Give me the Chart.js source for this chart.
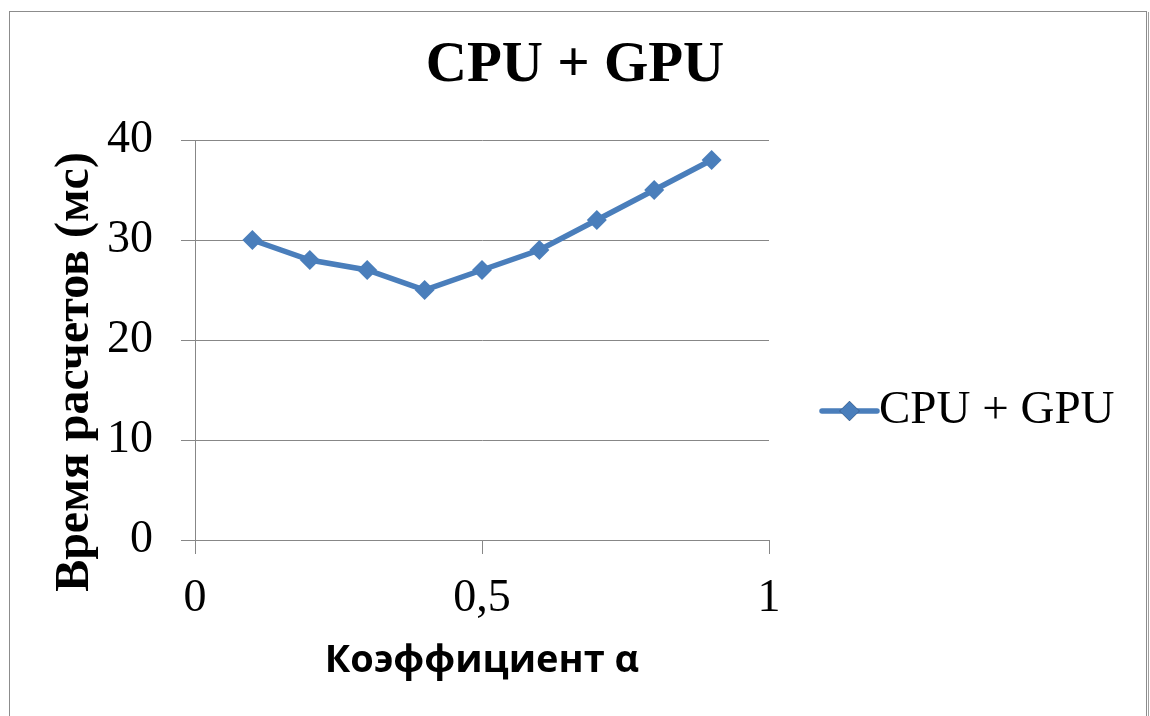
<!DOCTYPE html>
<html>
<head>
<meta charset="utf-8">
<title>CPU + GPU</title>
<script src="https://cdn.jsdelivr.net/npm/chart.js@4/dist/chart.umd.min.js"></script>
<style>
  html, body { margin: 0; padding: 0; background: #ffffff; }
  #chart { display: block; }
</style>
</head>
<body>
<canvas id="chart" width="1150" height="716"></canvas>
<script>
// Coefficient α and measured computation time (ms)
const alphaValues = [0.1, 0.2, 0.3, 0.4, 0.5, 0.6, 0.7, 0.8, 0.9];
const cpuGpuTimes = [30, 28, 27, 25, 27, 29, 32, 35, 38];

const seriesName = 'CPU + GPU';
const chartTitle = 'CPU + GPU';
const xAxisTitle = 'Коэффициент α';
const yAxisTitle = 'Время расчетов (мс)';

// Axis tick labels (decimal comma)
const xTickValues = [0, 0.5, 1];
const xTickLabels = ['0', '0,5', '1'];
const yTickValues = [0, 10, 20, 30, 40];
const yTickLabels = ['0', '10', '20', '30', '40'];

const seriesColor = '#4A7EBB';
const gridColor = '#878787';
const serif = '"Liberation Serif", "Times New Roman", serif';

const points = alphaValues.map((a, i) => ({ x: a, y: cpuGpuTimes[i] }));

// Outer frame of the chart
const framePlugin = {
  id: 'frame',
  beforeDraw(chart) {
    const ctx = chart.ctx;
    ctx.save();
    ctx.fillStyle = '#ffffff';
    ctx.fillRect(0, 0, chart.width, chart.height);
    ctx.strokeStyle = '#8c8c8c';
    ctx.lineWidth = 1;
    ctx.strokeRect(9.5, 11.5, 1137, 720);
    ctx.strokeStyle = '#a0a0a0';
    ctx.beginPath();
    ctx.moveTo(1148.5, 12);
    ctx.lineTo(1148.5, 716);
    ctx.stroke();
    ctx.restore();
  }
};

// Rotated y-axis title, placed slightly below the plot's middle
const yTitlePlugin = {
  id: 'yTitle',
  afterDraw(chart) {
    const ctx = chart.ctx;
    const area = chart.chartArea;
    ctx.save();
    ctx.translate(88, (area.top + area.bottom) / 2 + 32);
    ctx.rotate(-Math.PI / 2);
    ctx.font = 'bold 48px ' + serif;
    ctx.fillStyle = '#000000';
    ctx.textAlign = 'center';
    ctx.textBaseline = 'alphabetic';
    ctx.fillText(yAxisTitle, 0, 0);
    ctx.restore();
  }
};

// Legend to the right of the plot: line with a diamond marker, then the name
const sideLegendPlugin = {
  id: 'sideLegend',
  afterDraw(chart) {
    const ctx = chart.ctx;
    const area = chart.chartArea;
    const ds = chart.data.datasets[0];
    const x0 = area.right + 53;
    const x1 = x0 + 55;
    const y = 411;
    ctx.save();
    ctx.strokeStyle = ds.borderColor;
    ctx.lineWidth = ds.borderWidth;
    ctx.lineCap = 'round';
    ctx.beginPath();
    ctx.moveTo(x0, y);
    ctx.lineTo(x1, y);
    ctx.stroke();
    Chart.helpers.drawPoint(ctx, {
      pointStyle: 'rectRot',
      radius: ds.pointRadius,
      borderWidth: 0
    }, (x0 + x1) / 2, y);
    ctx.fillStyle = ds.pointBackgroundColor;
    ctx.fill();
    ctx.font = '47px ' + serif;
    ctx.fillStyle = '#000000';
    ctx.textAlign = 'left';
    ctx.textBaseline = 'middle';
    ctx.fillText(ds.label, x1 + 2, y);
    ctx.restore();
  }
};

new Chart(document.getElementById('chart'), {
  type: 'scatter',
  data: {
    datasets: [{
      label: seriesName,
      data: points,
      showLine: true,
      borderColor: seriesColor,
      borderWidth: 5.5,
      pointStyle: 'rectRot',
      pointRadius: 10,
      pointBackgroundColor: seriesColor,
      pointBorderColor: seriesColor,
      pointBorderWidth: 0,
      tension: 0
    }]
  },
  options: {
    responsive: false,
    animation: false,
    devicePixelRatio: 1,
    layout: { padding: 0 },
    plugins: {
      legend: { display: false },
      tooltip: { enabled: false },
      title: {
        display: true,
        text: chartTitle,
        color: '#000000',
        font: { family: serif, size: 57, weight: 'bold', lineHeight: 1.0 },
        padding: { top: 38, bottom: 45 }
      }
    },
    scales: {
      x: {
        type: 'linear',
        min: 0,
        max: 1,
        afterBuildTicks(scale) {
          scale.ticks = xTickValues.map(v => ({ value: v }));
        },
        afterFit(scale) { scale.height = 176; },
        ticks: {
          color: '#000000',
          font: { family: serif, size: 46 },
          padding: 17,
          maxRotation: 0,
          autoSkip: false,
          callback(value) {
            const i = xTickValues.indexOf(value);
            return i >= 0 ? xTickLabels[i] : '';
          }
        },
        grid: {
          drawOnChartArea: false,
          drawTicks: true,
          tickLength: 14,
          color: gridColor,
          lineWidth: 1
        },
        border: { display: true, color: gridColor, width: 1 },
        title: {
          display: true,
          text: xAxisTitle,
          color: '#000000',
          font: { family: '"Open Sans", sans-serif', size: 38, weight: 'bold', lineHeight: 1.2 },
          padding: { top: 0, bottom: 32 }
        }
      },
      y: {
        type: 'linear',
        min: 0,
        max: 40,
        afterBuildTicks(scale) {
          scale.ticks = yTickValues.map(v => ({ value: v }));
        },
        afterFit(scale) { scale.width = 195; },
        ticks: {
          color: '#000000',
          font: { family: serif, size: 46 },
          padding: 28,
          callback(value) {
            const i = yTickValues.indexOf(value);
            return i >= 0 ? yTickLabels[i] : '';
          }
        },
        grid: {
          drawTicks: true,
          tickLength: 14,
          color: gridColor,
          lineWidth: 1
        },
        border: { display: true, color: gridColor, width: 1 }
      },
      // Empty right-hand band that holds the legend
      legendBand: {
        type: 'linear',
        position: 'right',
        display: true,
        afterFit(scale) { scale.width = 381; },
        ticks: { display: false },
        grid: { display: false, drawTicks: false },
        border: { display: false }
      }
    }
  },
  plugins: [framePlugin, yTitlePlugin, sideLegendPlugin]
});
</script>
</body>
</html>
